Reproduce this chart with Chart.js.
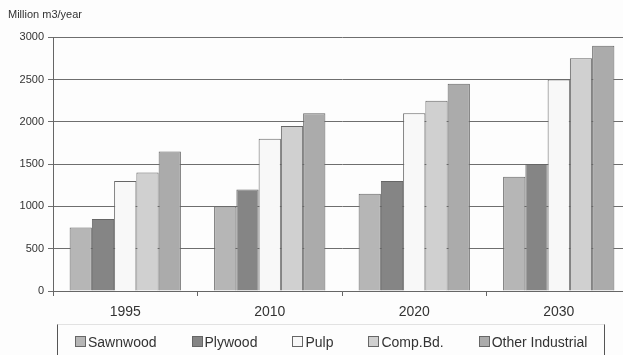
<!DOCTYPE html>
<html>
<head>
<meta charset="utf-8">
<script src="https://cdn.jsdelivr.net/npm/chart.js@4/dist/chart.umd.min.js"></script>
<style>
  html, body { margin: 0; padding: 0; overflow: hidden; background: #fdfdfd; }
  body { width: 623px; height: 355px; position: relative; font-family: "Liberation Sans", Arial, sans-serif; }
  #chart { position: absolute; left: 0; top: 0; }
  #legend {
    position: absolute; left: 57px; top: 324px; width: 548px; height: 40px;
    border-left: 1px solid #555; border-right: 1px solid #555; border-top: 1px solid #e2e2e2;
    display: flex; align-items: flex-start; padding-left: 17px; box-sizing: border-box;
  }
  .item { display: flex; align-items: center; height: 33px; margin-right: 35px; color: #333;
          font-size: 14px; white-space: nowrap; flex-shrink: 0; }
  .box { width: 9px; height: 9px; border: 1px solid #666; margin-right: 2px; }
</style>
</head>
<body>
<canvas id="chart" width="633" height="355"></canvas>
<div id="legend"></div>
<script>
// Dados do gráfico
const years = ['1995', '2010', '2020', '2030'];
const seriesNames = ['Sawnwood', 'Plywood', 'Pulp', 'Comp.Bd.', 'Other Industrial'];
const sawnwood = [750, 1000, 1150, 1350];
const plywood = [850, 1200, 1300, 1500];
const pulp = [1300, 1800, 2100, 2500];
const compBd = [1400, 1950, 2250, 2750];
const otherIndustrial = [1650, 2100, 2450, 2900];
const yTicks = [0, 500, 1000, 1500, 2000, 2500, 3000];

const fills = ['#b6b6b6', '#858585', '#f8f8f8', '#d0d0d0', '#ababab'];
const values = [sawnwood, plywood, pulp, compBd, otherIndustrial];

const datasets = seriesNames.map((name, i) => ({
  label: name,
  data: values[i],
  backgroundColor: fills[i],
  borderColor: '#666',
  borderWidth: 1,
  categoryPercentage: 0.77,
  barPercentage: 1
}));

new Chart(document.getElementById('chart'), {
  type: 'bar',
  data: { labels: years, datasets },
  options: {
    responsive: false,
    animation: false,
    layout: { padding: { left: 8, right: 2, top: 0, bottom: 0 } },
    plugins: {
      legend: { display: false },
      tooltip: { enabled: false },
      title: {
        display: true,
        text: 'Million m3/year',
        align: 'start',
        color: '#333',
        font: { family: 'Liberation Sans', size: 11, weight: 'normal' },
        padding: { top: 8, bottom: 16 }
      }
    },
    scales: {
      x: {
        offset: true,
        grid: { drawOnChartArea: false, drawTicks: true, tickLength: 5, offset: true, color: '#666' },
        border: { color: '#666' },
        ticks: { color: '#333', font: { family: 'Liberation Sans', size: 14 }, padding: 8 },
        afterFit: s => { s.height = 64; }
      },
      y: {
        min: 0,
        max: 3000,
        afterBuildTicks: s => { s.ticks = yTicks.map(v => ({ value: v })); },
        grid: { color: '#6e6e6e', tickLength: 5 },
        border: { color: '#666' },
        ticks: {
          color: '#333',
          font: { family: 'Liberation Sans', size: 11 },
          padding: 4,
          callback: v => String(v)
        },
        afterFit: s => { s.width = 45; }
      }
    }
  }
});

// Legenda em HTML
const legend = document.getElementById('legend');
seriesNames.forEach((name, i) => {
  const item = document.createElement('div');
  item.className = 'item';
  item.innerHTML = `<span class="box" style="background:${fills[i]}"></span>${name}`;
  legend.appendChild(item);
});
</script>
</body>
</html>
